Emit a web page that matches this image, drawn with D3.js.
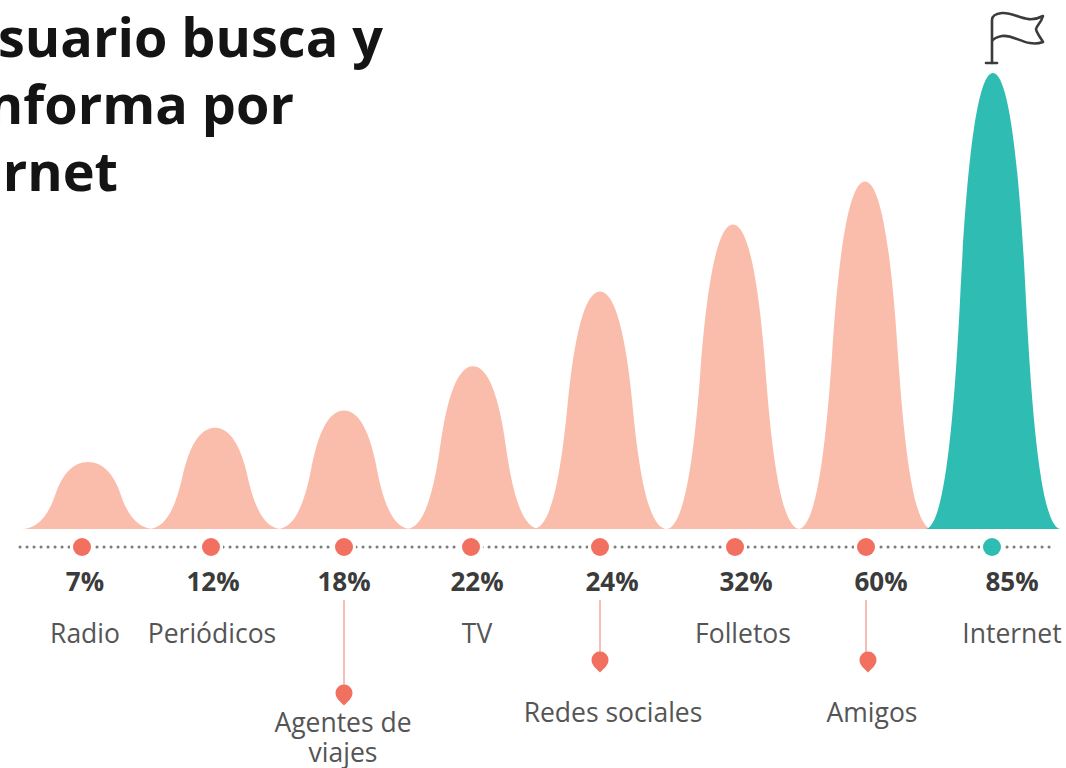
<!DOCTYPE html>
<meta charset="utf-8">
<style>
html, body { margin: 0; padding: 0; background: #fff; overflow: hidden; }
svg { display: block; font-family: 'Open Sans'; }
</style>
<body>
<svg></svg>
<script src="https://d3js.org/d3.v7.min.js"></script>
<script>
var titleLines = ["suario busca y", "nforma por", "rnet"];
var categories = ["Radio", "Periódicos", "Agentes de viajes", "TV", "Redes sociales", "Folletos", "Amigos", "Internet"];
var percentLabels = ["7%", "12%", "18%", "22%", "24%", "32%", "60%", "85%"];
// curve heights, tallest = 100 (they don't follow the percentages)
var peakHeights = [14.7, 22.2, 26, 35.7, 52.1, 66.8, 76.2, 100];

var width = 1066, height = 768;

var svg = d3.select("svg").attr("width", width).attr("height", height);

var y = d3.scaleLinear().domain([0, 100]).range([529, 73]);

// the columns drift apart a little from row to row in the original
var peakX = d3.scaleOrdinal().domain(categories).range([88, 215, 344, 473, 600, 733, 865, 993]);
var dotX = d3.scaleOrdinal().domain(categories).range([82, 211, 344, 471, 600, 735, 866, 992]);
var valueX = d3.scaleOrdinal().domain(categories).range([85, 213, 344, 477, 612, 746, 881, 1012]);
var nameX = d3.scaleOrdinal().domain(categories).range([85, 212, 343, 477, 613, 743, 872, 1012]);

var peach = "#fabdac", teal = "#2fbcb2", coral = "#f2705f";
var dark = "#3b3b3b", grey = "#555555";

function color(name) { return name === "Internet" ? teal : peach; }

// flared foot, steep side, round cap; same width for all, only the height changes
function bell(name, i) {
  var cx = peakX(name), b = y(0), h = b - y(peakHeights[i]);
  var w = name === "Internet" ? 68 : 67;
  var p = d3.path();
  p.moveTo(cx - w, b);
  p.bezierCurveTo(cx - 50, b, cx - 40, b - 0.2 * h, cx - 33, b - 0.5 * h);
  p.bezierCurveTo(cx - 26, b - 0.82 * h, cx - 15, b - h, cx, b - h);
  p.bezierCurveTo(cx + 15, b - h, cx + 26, b - 0.82 * h, cx + 33, b - 0.5 * h);
  p.bezierCurveTo(cx + 40, b - 0.2 * h, cx + 50, b, cx + w, b);
  p.closePath();
  return p.toString();
}

// title
svg.append("g").selectAll("text")
    .data(titleLines)
  .enter().append("text")
    .attr("x", function(d, i) { return [383, 294, 118][i]; })
    .attr("y", function(d, i) { return 57 + i * 67; })
    .attr("text-anchor", "end")
    .attr("font-size", 54)
    .attr("font-weight", 700)
    .attr("fill", "#141414")
    .text(function(d) { return d; });

// curves
svg.append("g").selectAll("path")
    .data(categories)
  .enter().append("path")
    .attr("d", bell)
    .attr("fill", color);

// dotted line
var lineY = 547;
svg.append("line")
    .attr("x1", 20).attr("x2", 1052)
    .attr("y1", lineY).attr("y2", lineY)
    .attr("stroke", "#7d7d7d")
    .attr("stroke-width", 3)
    .attr("stroke-linecap", "round")
    .attr("stroke-dasharray", "0.1 6.9");

svg.append("g").selectAll("circle")
    .data(categories)
  .enter().append("circle")
    .attr("cx", dotX)
    .attr("cy", lineY)
    .attr("r", 12)
    .attr("fill", "#fff");

svg.append("g").selectAll("circle")
    .data(categories)
  .enter().append("circle")
    .attr("cx", dotX)
    .attr("cy", lineY)
    .attr("r", 9)
    .attr("fill", function(d) { return d === "Internet" ? teal : coral; });

// percentages
svg.append("g").selectAll("text")
    .data(categories)
  .enter().append("text")
    .attr("x", valueX)
    .attr("y", 591)
    .attr("text-anchor", "middle")
    .attr("font-size", 26)
    .attr("font-weight", 700)
    .attr("fill", dark)
    .text(function(d, i) { return percentLabels[i]; });

// names: lowered ones hang from a stem with a pin
var lowered = {"Agentes de viajes": {pinY: 694, lines: ["Agentes de", "viajes"], textY: 732},
               "Redes sociales": {pinY: 661, lines: ["Redes sociales"], textY: 722},
               "Amigos": {pinY: 661, lines: ["Amigos"], textY: 722}};

categories.forEach(function(name) {
  var low = lowered[name];
  if (!low) {
    svg.append("text")
        .attr("x", nameX(name))
        .attr("y", 643)
        .attr("text-anchor", "middle")
        .attr("font-size", 26.5)
        .attr("fill", grey)
        .text(name);
    return;
  }
  var sx = dotX(name);
  svg.append("line")
      .attr("x1", sx).attr("x2", sx)
      .attr("y1", 600).attr("y2", low.pinY)
      .attr("stroke", "#f3a79b")
      .attr("stroke-width", 1.5);
  // teardrop pin, point downwards
  var py = low.pinY, r = 8.5;
  svg.append("path")
      .attr("transform", "translate(" + (sx + (name === "Amigos" ? 2 : 0)) + "," + py + ")")
      .attr("d", "M0," + (r + 3) + " C-4," + (r - 1) + " " + (-r) + ",4 " + (-r) + ",-1 A" + r + "," + r + " 0 0 1 " + r + ",-1 C" + r + ",4 4," + (r - 1) + " 0," + (r + 3) + "Z")
      .attr("fill", coral);
  low.lines.forEach(function(t, j) {
    svg.append("text")
        .attr("x", nameX(name))
        .attr("y", low.textY + j * 30)
        .attr("text-anchor", "middle")
        .attr("font-size", 26.5)
        .attr("fill", grey)
        .text(t);
  });
});

// flag on the tallest curve
var flag = svg.append("g")
    .attr("fill", "none")
    .attr("stroke", dark)
    .attr("stroke-width", 2.6)
    .attr("stroke-linejoin", "round")
    .attr("stroke-linecap", "round");
flag.append("path").attr("d", "M992,63 V20 Q992,14 1002,13 C1016,12 1026,25 1043,16 C1041,23 1037,25 1036,29 C1037,34 1041,38 1043,42 C1027,48 1014,34 1002,36 C997,37 994,38 992,41");
flag.append("path").attr("d", "M986,63 H997");
</script>
</body>
